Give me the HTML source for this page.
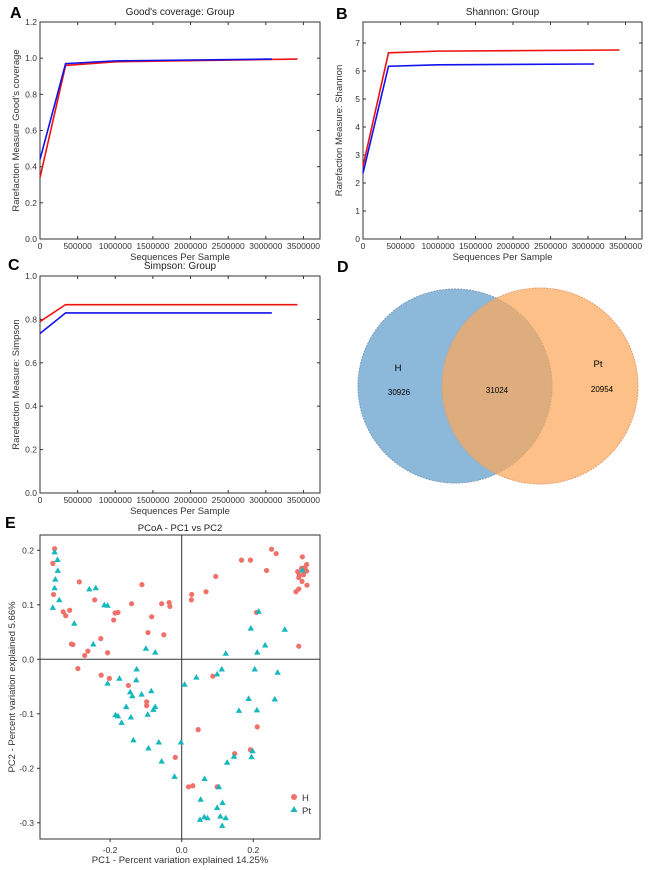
<!DOCTYPE html>
<html><head><meta charset="utf-8"><style>
body{margin:0;background:#fff}
svg{display:block;font-family:"Liberation Sans",Arial,sans-serif}
</style></head><body>
<svg id="fig" width="650" height="870" viewBox="0 0 650 870"></svg>
<script>
// ---- data ----
const rareRedX=[0,340000,1000000,3420000];
const goodRed=[0.34,0.96,0.98,0.995];
const rareBlueX=[0,340000,1000000,3080000];
const goodBlue=[0.44,0.97,0.985,0.995];
const shanRed=[2.6,6.65,6.71,6.75];
const shanBlue=[2.35,6.17,6.22,6.25];
const simpRed=[0.79,0.868,0.868,0.868];
const simpBlue=[0.735,0.83,0.83,0.83];
const xTicks=[0,500000,1000000,1500000,2000000,2500000,3000000,3500000];
const vennLabels=["H","Pt"];
const vennValues=[30926,31024,20954];
const hX=[-0.355,-0.360,-0.358,-0.286,-0.331,-0.324,-0.313,-0.308,-0.304,-0.271,-0.262,-0.290,-0.243,-0.207,-0.226,-0.190,-0.186,-0.178,-0.140,-0.111,-0.084,-0.094,-0.050,-0.056,-0.035,-0.033,-0.098,-0.098,-0.149,-0.225,-0.202,-0.018,0.046,0.019,0.031,0.099,0.087,0.148,0.192,0.211,0.209,0.095,0.028,0.027,0.068,0.167,0.192,0.237,0.251,0.264,0.327,0.337,0.324,0.327,0.336,0.319,0.327,0.341,0.349,0.344,0.335,0.340,0.349,0.350,0.328];
const hY=[0.203,0.176,0.119,0.142,0.087,0.080,0.090,0.028,0.027,0.007,0.015,-0.017,0.109,0.012,0.038,0.072,0.085,0.086,0.102,0.137,0.078,0.049,0.045,0.102,0.104,0.097,-0.078,-0.085,-0.048,-0.029,-0.035,-0.180,-0.129,-0.234,-0.232,-0.234,-0.031,-0.173,-0.166,-0.124,0.086,0.152,0.119,0.109,0.124,0.182,0.182,0.163,0.202,0.194,0.024,0.188,0.161,0.150,0.143,0.124,0.129,0.160,0.174,0.168,0.167,0.155,0.162,0.136,0.155];
const ptX=[-0.355,-0.347,-0.346,-0.353,-0.355,-0.342,-0.360,-0.300,-0.258,-0.240,-0.216,-0.207,-0.247,-0.100,-0.074,-0.126,-0.127,-0.174,-0.207,-0.144,-0.138,-0.112,-0.085,-0.155,-0.074,-0.079,-0.095,-0.185,-0.178,-0.168,-0.142,-0.135,-0.093,-0.064,-0.056,-0.020,-0.002,0.008,0.041,0.099,0.112,0.123,0.204,0.268,0.187,0.260,0.160,0.210,0.198,0.195,0.146,0.127,0.064,0.104,0.053,0.114,0.099,0.063,0.051,0.072,0.108,0.123,0.113,0.193,0.215,0.288,0.233,0.211,0.337];
const ptY=[0.197,0.183,0.163,0.147,0.131,0.109,0.095,0.066,0.129,0.131,0.100,0.099,0.028,0.020,0.013,-0.018,-0.038,-0.035,-0.044,-0.060,-0.067,-0.064,-0.058,-0.087,-0.087,-0.092,-0.101,-0.102,-0.104,-0.116,-0.106,-0.148,-0.163,-0.152,-0.187,-0.215,-0.152,-0.046,-0.033,-0.027,-0.018,0.011,-0.018,-0.024,-0.072,-0.073,-0.094,-0.093,-0.168,-0.179,-0.178,-0.189,-0.219,-0.234,-0.257,-0.263,-0.272,-0.289,-0.294,-0.291,-0.288,-0.291,-0.305,0.057,0.088,0.055,0.026,0.013,0.164];
const pcTicksX=[-0.2,0.0,0.2];
const pcTicksY=[0.2,0.1,0.0,-0.1,-0.2,-0.3];

const NS="http://www.w3.org/2000/svg";
const svg=document.getElementById('fig');
function mk(tag,attrs,parent,name,txt){const e=document.createElementNS(NS,tag);for(const k in attrs)e.setAttribute(k,attrs[k]);


if(txt!==undefined)e.textContent=txt;(parent||svg).appendChild(e);return e;}

function rarePanel(id,bx,by,bw,bh,ymax,yTicks,yFmt,title,ylab,red,blue,letter,lx,ly){
  const g=mk('g',{},svg,'panel-'+id);
  const xmax=3720000;
  const sx=v=>bx+v/xmax*bw, sy=v=>by+bh-v/ymax*bh;
  mk('rect',{x:bx,y:by,width:bw,height:bh,fill:'none',stroke:'#333','stroke-width':1},g,id+'-plot-frame');
  xTicks.forEach(t=>{const x=sx(t);
    mk('line',{x1:x,x2:x,y1:by+bh,y2:by+bh-3,stroke:'#333'},g,id+'-x-tick');
    mk('line',{x1:x,x2:x,y1:by,y2:by+3,stroke:'#333'},g,id+'-x-tick-top');
    mk('text',{x:x,y:by+bh+10,'font-size':8.5,'text-anchor':'middle',fill:'#333'},g,id+'-x-tick-label',String(t));});
  yTicks.forEach(t=>{const y=sy(t);
    mk('line',{x1:bx,x2:bx+3,y1:y,y2:y,stroke:'#333'},g,id+'-y-tick');
    mk('line',{x1:bx+bw,x2:bx+bw-3,y1:y,y2:y,stroke:'#333'},g,id+'-y-tick-right');
    mk('text',{x:bx-3,y:y+3,'font-size':8.5,'text-anchor':'end',fill:'#333'},g,id+'-y-tick-label',yFmt(t));});
  mk('text',{x:bx+bw/2,y:by+bh+21,'font-size':9.5,'text-anchor':'middle',fill:'#333'},g,id+'-x-axis-title','Sequences Per Sample');
  mk('text',{x:bx+bw/2,y:by-7,'font-size':10,'text-anchor':'middle',fill:'#222'},g,id+'-chart-title',title);
  const yc=by+bh/2;
  mk('text',{x:bx-21,y:yc,'font-size':9.5,'text-anchor':'middle',fill:'#333',transform:`rotate(-90 ${bx-21} ${yc})`},g,id+'-y-axis-title',ylab);
  mk('polyline',{points:rareRedX.map((v,i)=>sx(v)+','+sy(red[i])).join(' '),fill:'none',stroke:'#ee1111','stroke-width':1.6},g,id+'-line-pt');
  mk('polyline',{points:rareBlueX.map((v,i)=>sx(v)+','+sy(blue[i])).join(' '),fill:'none',stroke:'#1111ee','stroke-width':1.6},g,id+'-line-h');
  mk('text',{x:lx,y:ly,'font-size':16,'font-weight':'bold',fill:'#000'},g,'panel-label-'+id,letter);
}
rarePanel('a',40,22,280,217,1.2,[0,0.2,0.4,0.6,0.8,1.0,1.2],t=>t.toFixed(1),"Good's coverage: Group","Rarefaction Measure Good's coverage",goodRed,goodBlue,'A',10,18);
rarePanel('b',363,22,279,217,7.75,[0,1,2,3,4,5,6,7],t=>String(t),"Shannon: Group","Rarefaction Measure: Shannon",shanRed,shanBlue,'B',336,19);
rarePanel('c',40,276,280,217,1.0,[0,0.2,0.4,0.6,0.8,1.0],t=>t.toFixed(1),"Simpson: Group","Rarefaction Measure: Simpson",simpRed,simpBlue,'C',8,270);

// Venn
const gv=mk('g',{},svg,'venn-diagram');
mk('text',{x:337,y:272,'font-size':16,'font-weight':'bold'},gv,'panel-label-d','D');
mk('circle',{cx:455,cy:386,r:97,fill:'#6fa7d0','fill-opacity':0.8,stroke:'#7a9cbb','stroke-dasharray':'2,1'},gv,'venn-circle-h');
mk('circle',{cx:540,cy:386,r:98,fill:'#fca85a','fill-opacity':0.72,stroke:'#e0a070','stroke-dasharray':'2,1'},gv,'venn-circle-pt');
mk('text',{x:398,y:371,'font-size':9.5,'text-anchor':'middle'},gv,'venn-label-h',vennLabels[0]);
mk('text',{x:598,y:367,'font-size':9.5,'text-anchor':'middle'},gv,'venn-label-pt',vennLabels[1]);
mk('text',{x:399,y:395,'font-size':8,'text-anchor':'middle'},gv,'venn-count-h-only',String(vennValues[0]));
mk('text',{x:497,y:393,'font-size':8,'text-anchor':'middle'},gv,'venn-count-shared',String(vennValues[1]));
mk('text',{x:602,y:392,'font-size':8,'text-anchor':'middle'},gv,'venn-count-pt-only',String(vennValues[2]));

// PCoA
const gp=mk('g',{},svg,'pcoa-panel');
const bx=40,by=535,bw=280,bh=304;
const px=v=>181.7+v*358, py=v=>659.3-v*545;
mk('text',{x:5,y:528,'font-size':16,'font-weight':'bold'},gp,'panel-label-e','E');
mk('text',{x:180,y:531,'font-size':9.5,'text-anchor':'middle',fill:'#222'},gp,'pcoa-title','PCoA - PC1 vs PC2');
mk('rect',{x:bx,y:by,width:bw,height:bh,fill:'none',stroke:'#333'},gp,'pcoa-frame');
mk('line',{x1:px(0),x2:px(0),y1:by,y2:by+bh,stroke:'#333'},gp,'pcoa-zero-vline');
mk('line',{x1:bx,x2:bx+bw,y1:py(0),y2:py(0),stroke:'#333'},gp,'pcoa-zero-hline');
pcTicksX.forEach(t=>{mk('line',{x1:px(t),x2:px(t),y1:by+bh,y2:by+bh+3,stroke:'#333'},gp,'pcoa-x-tick');
  mk('text',{x:px(t),y:by+bh+14,'font-size':8.5,'text-anchor':'middle',fill:'#333'},gp,'pcoa-x-tick-label',t.toFixed(1));});
pcTicksY.forEach(t=>{mk('line',{x1:bx-3,x2:bx,y1:py(t),y2:py(t),stroke:'#333'},gp,'pcoa-y-tick');
  mk('text',{x:bx-6,y:py(t)+3,'font-size':8.5,'text-anchor':'end',fill:'#333'},gp,'pcoa-y-tick-label',t.toFixed(1));});
mk('text',{x:180,y:863,'font-size':9.5,'text-anchor':'middle',fill:'#333'},gp,'pcoa-x-axis-title','PC1 - Percent variation explained 14.25%');
mk('text',{x:15,y:687,'font-size':9.5,'text-anchor':'middle',fill:'#333',transform:'rotate(-90 15 687)'},gp,'pcoa-y-axis-title','PC2 - Percent variation explained 5.66%');
hX.forEach((v,i)=>{mk('circle',{cx:px(v),cy:py(hY[i]),r:2.6,fill:'#f0706a'},gp,'point-h');});
ptX.forEach((v,i)=>{const x=px(v),y=py(ptY[i]);
  mk('polygon',{points:`${x},${y-3.2} ${x-3.2},${y+2.4} ${x+3.2},${y+2.4}`,fill:'#16b8bd'},gp,'point-pt');});
mk('circle',{cx:294,cy:797,r:3,fill:'#f0706a'},gp,'legend-marker-h');
mk('text',{x:302,y:801,'font-size':9.5,fill:'#333'},gp,'legend-label-h','H');
mk('polygon',{points:'294,806 290.5,812 297.5,812',fill:'#16b8bd'},gp,'legend-marker-pt');
mk('text',{x:302,y:814,'font-size':9.5,fill:'#333'},gp,'legend-label-pt','Pt');
</script>
</body></html>
